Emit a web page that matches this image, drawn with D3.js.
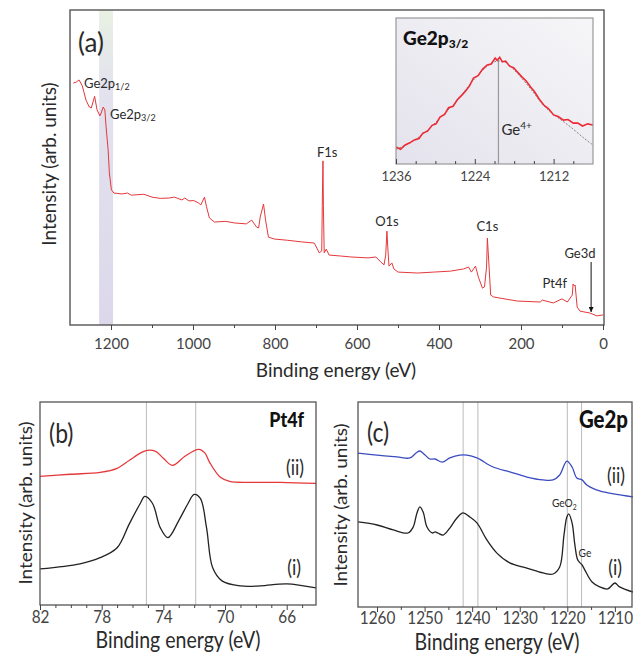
<!DOCTYPE html>
<html><head><meta charset="utf-8">
<script src="https://cdn.jsdelivr.net/npm/d3@7"></script>
<style>body{margin:0;background:#fff} svg{display:block} text{font-family:Lato,"Open Sans",sans-serif;fill:#2a2a2a}</style>
</head><body><svg id="c" width="633" height="658"></svg>
<script>
// ---------- DATA ----------
// (a) survey spectrum: [binding energy eV, intensity a.u.]
const surveyData = [[1292,76.8],[1285,77.1],[1278,77.8],[1270,75.9],[1261,71.4],[1253,69.2],[1248,68.9],[1240,72.6],[1234,68.3],[1227,66.4],[1224,67.3],[1219,69.2],[1215,68.3],[1212,62.9],[1207,55.6],[1204,48.3],[1199,42.9],[1193,41.9],[1173,41.6],[1160,41.9],[1150,41.2],[1142,41.3],[1120,41.5],[1100,40.6],[1080,40.2],[1059,40.3],[1045,40.6],[1027,39.7],[1020,40.3],[1010,39.4],[998,39.5],[986,38.7],[981,38.1],[972,40.6],[967,37.5],[960,34.0],[948,32.7],[920,32.9],[899,32.4],[870,32.1],[857,33.3],[845,31.1],[840,30.8],[836,34.3],[828,38.4],[823,33.3],[816,27.9],[802,27.3],[770,26.9],[736,26.4],[704,26.0],[692,22.9],[686,23.5],[684.5,40],[683,52.1],[682,38],[680,22.9],[675,24.1],[668,22.2],[640,21.9],[615,21.6],[573,21.3],[554,21.6],[542,20.0],[534,19.1],[530,22.2],[527,29.8],[525,24.8],[522,18.7],[515,19.7],[510,17.8],[500,16.8],[452,16.5],[413,16.8],[372,17.1],[340,17.8],[328,18.4],[321,16.8],[311,18.7],[304,15.2],[294,11.7],[289,12.1],[284,18.4],[282,27.6],[277,16.5],[274,9.5],[267,8.9],[209,7.6],[153,7.3],[148,7.9],[121,7.0],[100,8.3],[87,7.3],[75,9.5],[73,13.0],[70,12.4],[68,12.7],[63,5.7],[56,4.4],[32,3.8],[15,2.9],[0,3.2]];
const surveyTicks = [1200,1000,800,600,400,200,0];
const surveyMinor = [1100,900,700,500,300,100];
const bandRange = [1229,1195];
// inset Ge2p3/2
const insetData = [[1236.0,11.6],[1235.3,10.0],[1234.6,13.0],[1233.9,14.5],[1233.2,16.5],[1232.5,17.5],[1231.9,21.2],[1231.2,22.5],[1230.5,26.5],[1229.9,27.5],[1229.3,32.2],[1228.6,34.0],[1228.0,38.5],[1227.3,39.5],[1226.7,43.8],[1226.0,47.0],[1225.4,50.0],[1224.8,53.5],[1224.2,58.9],[1223.5,60.5],[1222.8,65.0],[1222.1,67.8],[1221.5,68.5],[1220.9,72.5],[1220.6,71.0],[1220.2,73.0],[1219.8,70.0],[1219.3,70.5],[1218.7,67.0],[1218.1,66.0],[1217.5,63.0],[1216.8,59.5],[1216.2,57.0],[1215.5,52.7],[1214.9,49.5],[1214.2,44.5],[1213.5,40.4],[1212.8,38.0],[1212.0,33.6],[1211.3,32.5],[1210.5,30.1],[1209.8,30.5],[1209.0,28.0],[1208.3,28.1],[1207.6,26.0],[1206.8,27.5],[1206.0,26.7]];
const insetFit = [[1236,10],[1233.9,14.5],[1231.9,20.5],[1229.3,31.5],[1226.7,43.5],[1224.2,57.5],[1222.1,67],[1220.6,70.5],[1219.3,69.5],[1217.5,62],[1215.5,51.5],[1213.5,40],[1212,34],[1210.5,29],[1209.4,25.3],[1207.4,17.8],[1206,13]];
const insetTicks = [1236,1224,1212];
const insetMinor = [1233,1230,1227,1221,1218,1215,1209];
const insetPeak = 1220.4;
// (b) Pt4f
const pt4fII = [[82,63.4],[80.05,64.4],[78.1,65.3],[77.0,67.3],[76.2,71.3],[75.5,74.8],[75.05,76.2],[74.5,75.7],[74.0,72.3],[73.4,68.8],[72.6,73.3],[71.7,76.7],[71.3,74.8],[71.0,70.3],[70.3,62.9],[69.7,60.9],[68.4,60.4],[66.4,60.4],[64.1,59.9]];
const pt4fI = [[82,17.8],[79.4,20.3],[78.1,23.3],[77.0,28.2],[76.2,40.1],[75.5,50.0],[75.2,53.5],[74.7,50.0],[74.2,38.1],[73.7,33.2],[73.0,41.6],[72.4,50.0],[72.0,54.5],[71.6,52.5],[71.2,38.1],[70.8,18.3],[70.2,11.9],[69.0,9.4],[67.7,9.4],[66.0,10.4],[64.1,8.4]];
const pt4fTicks = [82,78,74,70,66];
const pt4fMinor = [81,80,79,77,76,75,73,72,71,69,68,67,65];
const pt4fLines = [75.1,71.9];
// (c) Ge2p
const ge2pII = [[1264.0,75.1],[1260.0,74.1],[1255.8,73.2],[1253.1,72.7],[1251.8,75.1],[1251.0,76.1],[1249.9,74.1],[1248.9,72.2],[1247.8,72.2],[1246.3,70.7],[1244.7,72.7],[1242.6,74.1],[1241.1,74.1],[1239.0,72.7],[1235.6,68.3],[1232.1,65.9],[1228.5,63.4],[1225.1,62.0],[1223.0,62.0],[1221.6,64.4],[1220.1,71.2],[1219.0,68.3],[1218.0,62.9],[1216.9,62.0],[1215.9,59.5],[1213.2,56.6],[1206.2,53.7]];
const ge2pI = [[1264.0,41.5],[1260.0,40.0],[1256.6,37.6],[1253.5,36.1],[1252.4,39.0],[1251.6,45.9],[1251.0,48.8],[1250.3,46.3],[1249.5,39.0],[1248.4,36.1],[1247.8,36.6],[1247.2,36.1],[1246.1,35.1],[1244.7,38.5],[1243.2,43.4],[1241.9,45.9],[1240.5,43.9],[1239.0,41.0],[1236.9,32.7],[1234.8,26.3],[1232.1,21.5],[1228.5,19.0],[1225.1,16.6],[1223.0,16.1],[1221.6,19.5],[1220.7,35.1],[1220.1,43.9],[1219.7,45.4],[1219.0,41.0],[1218.4,30.2],[1217.8,22.9],[1216.9,20.5],[1216.3,18.0],[1214.8,12.2],[1213.2,9.8],[1211.5,8.8],[1210.0,11.7],[1209.0,9.8],[1206.2,7.3]];
const ge2pTicks = [1260,1250,1240,1230,1220,1210];
const ge2pMinor = [1255,1245,1235,1225,1215];
const ge2pLines = [1241.9,1238.8,1220,1217];

// ---------- DRAW ----------
const svg = d3.select("#c");
const defs = svg.append("defs");
const bandGrad = defs.append("linearGradient").attr("id","band").attr("x1",0).attr("y1",0).attr("x2",0).attr("y2",1);
bandGrad.append("stop").attr("offset","0%").attr("stop-color","#e8f1e2");
bandGrad.append("stop").attr("offset","25%").attr("stop-color","#e3e2ee");
bandGrad.append("stop").attr("offset","100%").attr("stop-color","#dcd8ea");
const insGrad = defs.append("linearGradient").attr("id","ins").attr("x1",1).attr("y1",0).attr("x2",0).attr("y2",1);
insGrad.append("stop").attr("offset","0%").attr("stop-color","#f6f6f8");
insGrad.append("stop").attr("offset","100%").attr("stop-color","#e4e2ec");
defs.append("marker").attr("id","arr").attr("viewBox","0 0 10 10").attr("refX",10).attr("refY",5)
  .attr("markerWidth",5).attr("markerHeight",5).attr("orient","auto")
  .append("path").attr("d","M0,0L10,5L0,10z").attr("fill","#111");

function styleAxis(g, sx){
  g.select(".domain").remove();
  g.selectAll("line").attr("stroke","#444").attr("stroke-width",1);
  g.selectAll("text").style("fill","#444");
  if (sx) g.selectAll("text").attr("transform",`scale(${sx},1)`);
}
const fmt = d3.format("d");

// ===== Panel (a) =====
const xA = d3.scaleLinear().domain([1300,0]).range([70,603]);
const yA = d3.scaleLinear().domain([0,100]).range([325,10]);
svg.append("rect").attr("x",xA(bandRange[0])).attr("y",10).attr("width",xA(bandRange[1])-xA(bandRange[0])).attr("height",315).attr("fill","url(#band)");
svg.append("path").datum(surveyData).attr("fill","none").attr("stroke","#e5383b").attr("stroke-width",1)
  .attr("d",d3.line().x(d=>xA(d[0])).y(d=>yA(d[1])));
svg.append("rect").attr("x",70).attr("y",10).attr("width",534).attr("height",315).attr("fill","none").attr("stroke","#555").attr("stroke-width",1.4);
svg.append("g").attr("transform","translate(0,325)")
  .call(d3.axisBottom(xA).tickValues(surveyTicks).tickSize(5).tickSizeOuter(0).tickFormat(fmt))
  .call(g=>{styleAxis(g); g.selectAll("text").attr("y",24).attr("dy",0).style("font-size","15px");});
svg.append("g").attr("transform","translate(0,325)")
  .call(d3.axisBottom(xA).tickValues(surveyMinor).tickSize(3).tickFormat(""))
  .call(g=>styleAxis(g));
svg.append("text").attr("x",336).attr("y",377).attr("text-anchor","middle").style("font-size","19px").text("Binding energy (eV)");
svg.append("text").attr("transform","translate(56,164) rotate(-90)").attr("text-anchor","middle").style("font-size","19px").text("Intensity (arb. units)");
svg.append("text").attr("x",78).attr("y",52).style("font-size","26px").text("(a)");
function subLabel(x,y,main,sub,fs,sfs,dy,weight){
  const t = svg.append("text").attr("x",x).attr("y",y).style("font-size",fs+"px");
  if (weight) t.style("font-weight",weight).style("fill","#111");
  t.append("tspan").text(main);
  t.append("tspan").attr("dy",dy).style("font-size",sfs+"px").text(sub);
  return t;
}
subLabel(84,88,"Ge2p","1/2",13,9,2);
subLabel(110,119,"Ge2p","3/2",13,9,2);
svg.append("text").attr("x",xA(683)-6).attr("y",157).style("font-size","13px").text("F1s");
svg.append("text").attr("x",xA(527)).attr("y",226).attr("text-anchor","middle").style("font-size","13px").text("O1s");
svg.append("text").attr("x",xA(282)).attr("y",231).attr("text-anchor","middle").style("font-size","13px").text("C1s");
svg.append("text").attr("x",567).attr("y",288).attr("text-anchor","end").style("font-size","13px").text("Pt4f");
svg.append("text").attr("x",580).attr("y",258).attr("text-anchor","middle").style("font-size","13px").text("Ge3d");
svg.append("line").attr("x1",xA(29)).attr("x2",xA(29)).attr("y1",262).attr("y2",312).attr("stroke","#111").attr("stroke-width",1).attr("marker-end","url(#arr)");

// ===== Inset =====
const xI = d3.scaleLinear().domain([1236,1206]).range([396,593]);
const yI = d3.scaleLinear().domain([0,100]).range([164,18]);
svg.append("rect").attr("x",396).attr("y",18).attr("width",197).attr("height",146).attr("fill","url(#ins)");
defs.append("clipPath").attr("id","clipI").append("rect").attr("x",396).attr("y",18).attr("width",197).attr("height",146);
const gi = svg.append("g").attr("clip-path","url(#clipI)");
gi.append("line").attr("x1",xI(insetPeak)).attr("x2",xI(insetPeak)).attr("y1",yI(71)).attr("y2",164).attr("stroke","#999").attr("stroke-width",1.2);
gi.append("path").datum(insetFit).attr("fill","none").attr("stroke","#666").attr("stroke-width",0.8).attr("stroke-dasharray","2,1.5")
  .attr("d",d3.line().curve(d3.curveCatmullRom).x(d=>xI(d[0])).y(d=>yI(d[1])));
gi.append("path").datum(insetData).attr("fill","none").attr("stroke","#ee2a35").attr("stroke-width",1.6)
  .attr("d",d3.line().x(d=>xI(d[0])).y(d=>yI(d[1])));
svg.append("rect").attr("x",396).attr("y",18).attr("width",197).attr("height",146).attr("fill","none").attr("stroke","#999").attr("stroke-width",1.2);
svg.append("g").attr("transform","translate(0,164)")
  .call(d3.axisTop(xI).tickValues(insetTicks).tickSize(5).tickFormat(fmt))
  .call(g=>{styleAxis(g); g.selectAll("text").attr("y",17).attr("dy",0).style("font-size","13px");});
svg.append("g").attr("transform","translate(0,164)")
  .call(d3.axisTop(xI).tickValues(insetMinor).tickSize(3).tickFormat(""))
  .call(g=>styleAxis(g));
subLabel(403,45,"Ge2p","3/2",19,12,3,"900");
const g4 = svg.append("text").attr("x",xI(insetPeak)+3).attr("y",135).style("font-size","15px");
g4.append("tspan").text("Ge"); g4.append("tspan").attr("dy",-6).style("font-size","10px").text("4+");

// ===== Panel (b) =====
const SX = 0.85;
const xB = d3.scaleLinear().domain([82,64.1]).range([40,316]);
const yB = d3.scaleLinear().domain([0,100]).range([605,402]);
pt4fLines.forEach(v=>svg.append("line").attr("x1",xB(v)).attr("x2",xB(v)).attr("y1",402).attr("y2",605).attr("stroke","#bbb").attr("stroke-width",1));
const lineB = d3.line().curve(d3.curveCatmullRom.alpha(0.5)).x(d=>xB(d[0])).y(d=>yB(d[1]));
svg.append("path").datum(pt4fII).attr("fill","none").attr("stroke","#e5383b").attr("stroke-width",1.3).attr("d",lineB);
svg.append("path").datum(pt4fI).attr("fill","none").attr("stroke","#222").attr("stroke-width",1.3).attr("d",lineB);
svg.append("rect").attr("x",40).attr("y",402).attr("width",276).attr("height",203).attr("fill","none").attr("stroke","#555").attr("stroke-width",1.3);
svg.append("g").attr("transform","translate(0,605)")
  .call(d3.axisBottom(xB).tickValues(pt4fTicks).tickSize(5).tickFormat(fmt))
  .call(g=>{styleAxis(g,SX); g.selectAll("text").attr("y",18).attr("dy",0).style("font-size","18px");});
svg.append("g").attr("transform","translate(0,605)")
  .call(d3.axisBottom(xB).tickValues(pt4fMinor).tickSize(3).tickFormat(""))
  .call(g=>styleAxis(g));
function sText(x,y,txt,fs,anchor,weight){
  const t = svg.append("text").attr("transform",`translate(${x},${y}) scale(${SX},1)`).attr("text-anchor",anchor||"start").style("font-size",fs+"px").text(txt);
  if (weight) t.style("font-weight",weight).style("fill","#111");
  return t;
}
sText(178,648,"Binding energy (eV)",23,"middle");
svg.append("text").attr("transform","translate(32,503) rotate(-90) scale(1,0.9)").attr("text-anchor","middle").style("font-size","19px").text("Intensity (arb. units)");
sText(49,443,"(b)",27,"start");
sText(304,427,"Pt4f",21,"end","900");
sText(304,475,"(ii)",21,"end");
sText(301,575,"(i)",21,"end");

// ===== Panel (c) =====
const xC = d3.scaleLinear().domain([1264,1206.4]).range([358,632]);
const yC = d3.scaleLinear().domain([0,100]).range([607,402]);
ge2pLines.forEach(v=>svg.append("line").attr("x1",xC(v)).attr("x2",xC(v)).attr("y1",402).attr("y2",607).attr("stroke","#bbb").attr("stroke-width",1));
const lineC = d3.line().curve(d3.curveCatmullRom.alpha(0.5)).x(d=>xC(d[0])).y(d=>yC(d[1]));
svg.append("path").datum(ge2pII).attr("fill","none").attr("stroke","#3b4cc0").attr("stroke-width",1.3).attr("d",lineC);
svg.append("path").datum(ge2pI).attr("fill","none").attr("stroke","#222").attr("stroke-width",1.3).attr("d",lineC);
svg.append("rect").attr("x",358).attr("y",402).attr("width",274).attr("height",205).attr("fill","none").attr("stroke","#555").attr("stroke-width",1.3);
svg.append("g").attr("transform","translate(0,607)")
  .call(d3.axisBottom(xC).tickValues(ge2pTicks).tickSize(5).tickFormat(fmt))
  .call(g=>{styleAxis(g,SX); g.selectAll("text").attr("y",17).attr("dy",0).style("font-size","18px");});
svg.append("g").attr("transform","translate(0,607)")
  .call(d3.axisBottom(xC).tickValues(ge2pMinor).tickSize(3).tickFormat(""))
  .call(g=>styleAxis(g));
sText(497,650,"Binding energy (eV)",23,"middle");
svg.append("text").attr("transform","translate(347,505) rotate(-90) scale(1,0.9)").attr("text-anchor","middle").style("font-size","19px").text("Intensity (arb. units)");
sText(367,442,"(c)",27,"start");
sText(628,428,"Ge2p",24,"end","900");
sText(625,483,"(ii)",21,"end");
sText(622,575,"(i)",21,"end");
const go = svg.append("text").attr("transform",`translate(${xC(1220)-3},507) scale(${SX},1)`).attr("text-anchor","middle").style("font-size","12px");
go.append("tspan").text("GeO"); go.append("tspan").attr("dy",3).style("font-size","8px").text("2");
sText(585,557,"Ge",12,"middle");
</script></body></html>
